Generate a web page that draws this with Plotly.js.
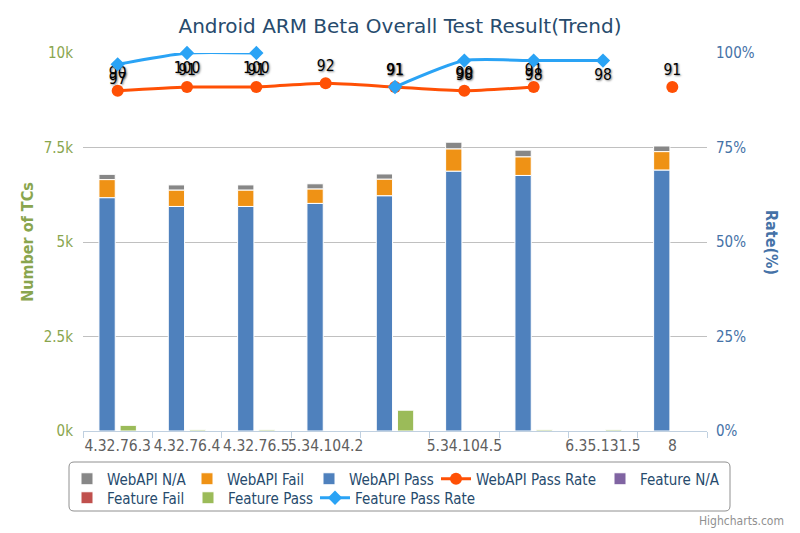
<!DOCTYPE html>
<html>
<head>
<meta charset="utf-8">
<script src="https://cdn.plot.ly/plotly-3.0.1.min.js"></script>
<style>html,body{margin:0;padding:0;background:#fff;}#chart{width:800px;height:533px;}</style>
</head>
<body>
<div id="chart"></div>
<script>
// ---- data ----
const tickLabels = ['4.32.76.3', '4.32.76.4', '4.32.76.5', '5.34.104.2', '', '5.34.104.5', '', '6.35.131.5', '8'];
const webapiNA   = [140, 140, 140, 140, 140, 180, 180, null, 150];
const webapiFail = [480, 430, 430, 380, 440, 590, 490, null, 490];
const webapiPass = [6170, 5940, 5940, 6020, 6220, 6870, 6760, null, 6900];
const featureNA   = [null, null, null, null, null, null, null, null, null];
const featureFail = [null, null, null, null, null, null, null, null, null];
const featurePass = [150, 30, 30, null, 550, null, 30, 30, null];
const webapiRate  = [90, 91, 91, 92, 91, 90, 91, null, 91];
const featureRate = [97, 100, 100, null, 91, 98, 98, 98, null];
const leftTickVals = [0, 2500, 5000, 7500, 10000];
const leftTickText = ['0k', '2.5k', '5k', '7.5k', '10k'];
const rightTickVals = [0, 25, 50, 75, 100];
const rightTickText = ['0%', '25%', '50%', '75%', '100%'];

// ---- build ----
const FONT = '"DejaVu Sans Condensed", "DejaVu Sans", sans-serif';
const TFONT = '"DejaVu Sans", sans-serif';
const W = 800, H = 533, PL = 83, PR = 707, PT = 53, PB = 431;
const xs = tickLabels.map((_, i) => i);
const add = (a, b) => a.map((v, i) => (v == null || b[i] == null) ? null : v + b[i]);
const zeros = xs.map(() => 0);
const BW = 0.235, OFF_W = -0.27, OFF_F = 0.035;

// legend placement (text start x, row centre y) in pixels
const legendPos = [[107, 479], [227, 479], [349, 479], [476, 479], [640, 479], [107, 498], [228, 498], [355, 498]];
const legendIds = ['legend', 'legend2', 'legend3', 'legend4', 'legend5', 'legend6', 'legend7', 'legend8'];

function bar(name, y, base, color, off) {
  return {
    type: 'bar', name: name, x: xs, y: y, base: base, width: BW, offset: off,
    marker: {color: color, line: {color: '#ffffff', width: 1}},
    hoverinfo: 'name+y', showlegend: true
  };
}
const labelsOf = arr => arr.map(v => v == null ? '' : String(v));
const labelFont = {family: FONT, size: 15.5, color: '#000000', shadow: '1px 1px 2px rgba(0,0,0,0.5)'};

const traces = [
  bar('WebAPI N/A', webapiNA, add(webapiPass, webapiFail), '#878787', OFF_W),
  bar('WebAPI Fail', webapiFail, webapiPass, '#EF9215', OFF_W),
  bar('WebAPI Pass', webapiPass, zeros, '#4F81BD', OFF_W),
  {
    type: 'scatter', mode: 'lines+markers+text', name: 'WebAPI Pass Rate',
    x: xs, y: webapiRate, yaxis: 'y2', text: labelsOf(webapiRate),
    textposition: 'top center', cliponaxis: false, connectgaps: false,
    textfont: labelFont,
    line: {color: '#FF5005', width: 3, shape: 'spline', smoothing: 0.6},
    marker: {symbol: 'circle', size: 12, color: '#FF5005'}
  },
  bar('Feature N/A', featureNA, zeros, '#8064A2', OFF_F),
  bar('Feature Fail', featureFail, zeros, '#C0504D', OFF_F),
  bar('Feature Pass', featurePass, zeros, '#9BBB59', OFF_F),
  {
    type: 'scatter', mode: 'lines+markers+text', name: 'Feature Pass Rate',
    x: xs, y: featureRate, yaxis: 'y2', text: labelsOf(featureRate),
    textposition: featureRate.map(v => (v != null && v >= 95) ? 'bottom center' : 'top center'),
    cliponaxis: false, connectgaps: false,
    textfont: labelFont,
    line: {color: '#2AA3F5', width: 3, shape: 'spline', smoothing: 0.6},
    marker: {symbol: 'diamond', size: 11, color: '#2AA3F5'}
  }
];
traces.forEach((t, i) => { t.legend = legendIds[i]; });

const layout = {
  width: W, height: H,
  margin: {l: PL, r: W - PR, t: PT, b: H - PB},
  paper_bgcolor: '#ffffff', plot_bgcolor: '#ffffff',
  font: {family: FONT, size: 15, color: '#606060'},
  barmode: 'overlay',
  showlegend: true,
  title: {text: 'Android ARM Beta Overall Test Result(Trend)', x: 0.5, xanchor: 'center', y: 1 - 26 / H, yanchor: 'middle',
          font: {family: TFONT, size: 20, color: '#274B6D'}},
  xaxis: {
    range: [-0.5, 8.5], tickmode: 'array', tickvals: xs, ticktext: tickLabels, tickangle: 0,
    showgrid: false, zeroline: false, showline: true, linecolor: '#C0D0E0', linewidth: 1,
    ticks: '', tickfont: {family: FONT, size: 15.5, color: '#606060'},
    minor: {tick0: 0.5, dtick: 1, ticks: 'outside', ticklen: 6, tickcolor: '#C0D0E0', showgrid: false},
    fixedrange: true
  },
  yaxis: {
    range: [0, 10000], tickmode: 'array', tickvals: leftTickVals, ticktext: leftTickText,
    showgrid: true, gridcolor: '#C0C0C0', gridwidth: 1, zeroline: false, showline: false,
    tickfont: {family: FONT, size: 15, color: '#89A54E'}, ticks: '', ticklabelstandoff: 9,
    title: {text: 'Number of TCs', standoff: 6, font: {family: FONT, size: 16, color: '#89A54E', weight: 'bold'}},
    fixedrange: true
  },
  yaxis2: {
    overlaying: 'y', side: 'right', range: [0, 100], tickmode: 'array', tickvals: rightTickVals,
    ticktext: rightTickText, showgrid: false, zeroline: false, showline: false, ticks: '',
    ticklabelstandoff: 8,
    tickfont: {family: FONT, size: 15, color: '#4572A7'}, fixedrange: true
  },
  shapes: [(() => {
    const px = v => (v - PL) / (PR - PL), py = v => (PB - v) / (PB - PT);
    const x0 = 69, x1 = 730, y0 = 462, y1 = 511, r = 5;
    const p = [
      'M', px(x0 + r), py(y0), 'L', px(x1 - r), py(y0), 'Q', px(x1), py(y0), px(x1), py(y0 + r),
      'L', px(x1), py(y1 - r), 'Q', px(x1), py(y1), px(x1 - r), py(y1),
      'L', px(x0 + r), py(y1), 'Q', px(x0), py(y1), px(x0), py(y1 - r),
      'L', px(x0), py(y0 + r), 'Q', px(x0), py(y0), px(x0 + r), py(y0), 'Z'
    ];
    return {type: 'path', xref: 'paper', yref: 'paper', path: p.join(' ').replace(/ ([-\d.]+) ([-\d.]+)/g, ' $1,$2'),
            line: {color: '#909090', width: 1}, fillcolor: 'rgba(0,0,0,0)', layer: 'above'};
  })()],
  annotations: [
    {text: 'Rate(%)', xref: 'paper', yref: 'paper', x: 1 + (772 - PR) / (PR - PL), y: 0.5,
     xanchor: 'center', yanchor: 'middle', textangle: 90, showarrow: false,
     font: {family: FONT, size: 16, color: '#4572A7', weight: 'bold'}},
    {text: 'Highcharts.com', xref: 'paper', yref: 'paper', x: 1 + (786 - PR) / (PR - PL), y: -(521 - PB) / (PB - PT),
     xanchor: 'right', yanchor: 'middle', showarrow: false,
     font: {family: FONT, size: 12, color: '#909090'}}
  ]
};
legendIds.forEach((id, i) => {
  layout[id] = {
    orientation: 'h', xref: 'container', yref: 'container',
    x: (legendPos[i][0] - 40) / W, xanchor: 'left', y: 1 - legendPos[i][1] / H, yanchor: 'middle',
    borderwidth: 0, bgcolor: 'rgba(0,0,0,0)', itemwidth: 30,
    font: {family: FONT, size: 15, color: '#274B6D'}
  };
});

Plotly.newPlot('chart', traces, layout, {displayModeBar: false, staticPlot: true});
</script>
</body>
</html>
